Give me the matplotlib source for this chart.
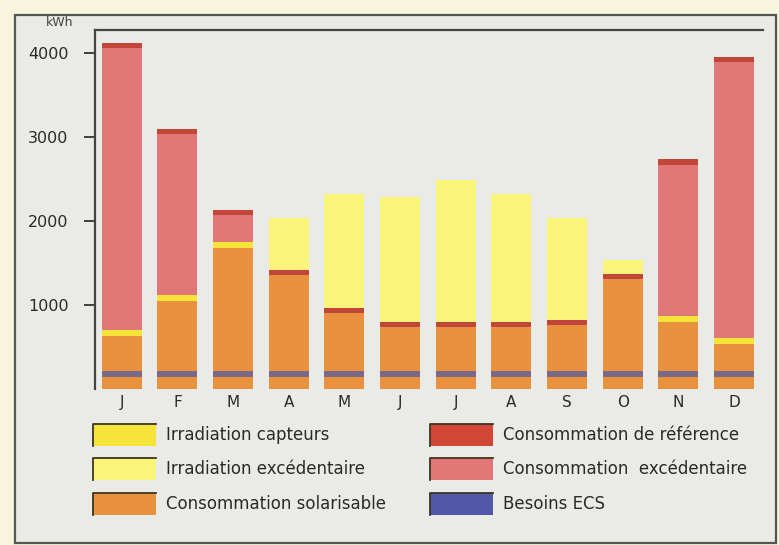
import numpy as np
import matplotlib.pyplot as plt
from matplotlib.patches import Rectangle

mois = ['J', 'F', 'M', 'A', 'M', 'J', 'J', 'A', 'S', 'O', 'N', 'D']
# valeurs mensuelles en kWh
consommation_ref = [4110, 3090, 2130, 1415, 960, 800, 800, 800, 820, 1370, 2730, 3945]
irradiation = [700, 1120, 1750, 2030, 2325, 2285, 2485, 2325, 2030, 1535, 870, 605]
besoins_ecs = [210, 210, 210, 210, 210, 210, 210, 210, 210, 210, 210, 210]
yticks = [1000, 2000, 3000, 4000]

legende_g = ['Irradiation capteurs', 'Irradiation excédentaire', 'Consommation solarisable']
legende_d = ['Consommation de référence', 'Consommation  excédentaire', 'Besoins ECS']

c_capteurs = '#f6e43a'
c_irr_exc = '#faf47a'
c_solaire = '#e8923e'
c_ref = '#d24638'
c_conso_exc = '#e17676'
c_ecs = '#5157a6'
couleurs_g = [c_capteurs, c_irr_exc, c_solaire]
couleurs_d = [c_ref, c_conso_exc, c_ecs]

W, H = 779, 545
fig = plt.figure(figsize=(W / 100, H / 100), dpi=100)
fig.patch.set_facecolor('#f8f5de')

# cadre gris du document
bg = fig.add_axes([0, 0, 1, 1], zorder=-1)
bg.set_xlim(0, W)
bg.set_ylim(H, 0)
bg.axis('off')
bg.add_patch(Rectangle((15, 15), 761, 528, facecolor='#eaeae6', edgecolor='#555555', lw=1.6))

ax = fig.add_axes([95 / W, 1 - 389 / H, 668 / W, 359 / H])
ax.set_facecolor('#eaeae6')

x = np.arange(len(mois))
conso = np.array(consommation_ref)
irr = np.array(irradiation)
ecs = np.array(besoins_ecs)
solaire = np.minimum(conso, irr)
w = 0.72

ax.bar(x, solaire, w, color=c_solaire, lw=0)
ax.bar(x, conso - solaire, w, bottom=solaire, color=c_conso_exc, lw=0)
ax.bar(x, irr - solaire, w, bottom=solaire, color=c_irr_exc, lw=0)
hiver = irr < conso
ax.bar(x[hiver], 75, w, bottom=irr[hiver] - 75, color=c_capteurs, lw=0)
ax.bar(x, 60, w, bottom=conso - 60, color='#c4453a', lw=0)
ax.bar(x, 70, w, bottom=ecs - 70, color=c_ecs, alpha=0.72, lw=0)

ax.set_xlim(-0.48, 11.52)
ax.set_ylim(0, 4270)
ax.set_yticks(yticks)
ax.set_yticklabels([str(v) for v in yticks], fontsize=11.5, color='#2a2a2a')
ax.set_xticks(x)
ax.set_xticklabels(mois, fontsize=11, color='#2a2a2a')
ax.tick_params(axis='y', length=8, width=1.3, pad=11, color='#333333')
ax.tick_params(axis='x', length=0, pad=4)
for s in ['right', 'bottom']:
    ax.spines[s].set_visible(False)
for s in ['top', 'left']:
    ax.spines[s].set_color('#444444')
    ax.spines[s].set_linewidth(1.6)

fig.text(60 / W, 1 - 22 / H, 'kWh', fontsize=9, ha='center', va='center', color='#444444')

# légende sur deux colonnes
lg = fig.add_axes([0, 0, 1, 1], zorder=3)
lg.set_xlim(0, W)
lg.set_ylim(H, 0)
lg.axis('off')
rangs = [435, 469, 504]
for x0, textes, couleurs in [(93, legende_g, couleurs_g), (430, legende_d, couleurs_d)]:
    for y0, t, c in zip(rangs, textes, couleurs):
        lg.add_patch(Rectangle((x0, y0 - 11), 63, 22, facecolor=c, lw=0))
        lg.plot([x0, x0, x0 + 63], [y0 + 11, y0 - 11, y0 - 11], color='#3b3522', lw=1.3)
        lg.text(x0 + 73, y0, t, fontsize=12, va='center', ha='left', color='#2a2a2a')

fig.savefig('out.png', dpi=100, facecolor=fig.get_facecolor())
